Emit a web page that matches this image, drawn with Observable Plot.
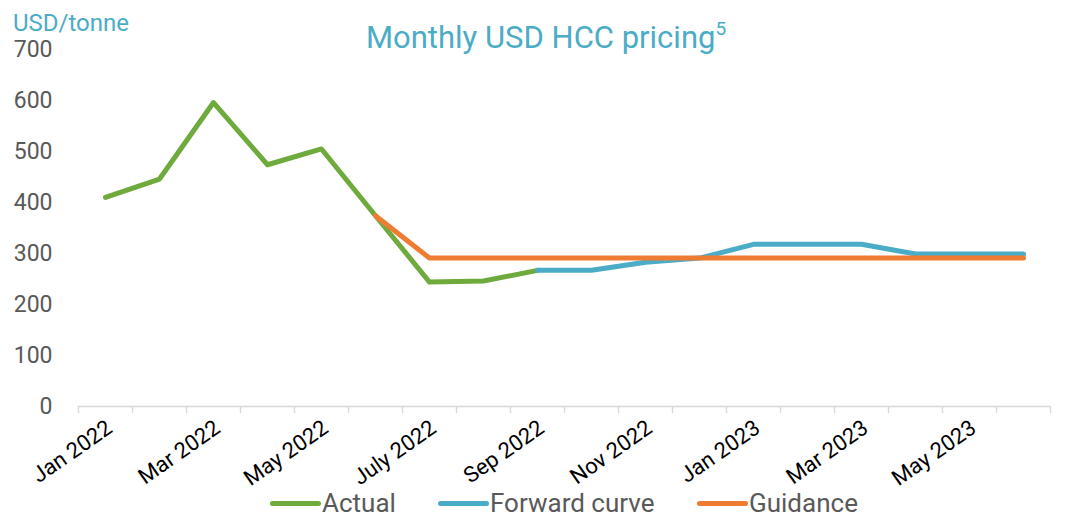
<!DOCTYPE html>
<html>
<head>
<meta charset="utf-8">
<script src="https://cdn.jsdelivr.net/npm/d3@7"></script>
<script src="https://cdn.jsdelivr.net/npm/@observablehq/plot@0.6"></script>
<style>
  html, body { margin: 0; padding: 0; background: #fff; }
  #wrap { position: relative; width: 1077px; height: 521px; overflow: hidden; font-family: Roboto, "Noto Sans", sans-serif; }
  #ylabel { position: absolute; left: 13px; top: 9px; font-size: 24px; color: #4bacc6; }
  #title { position: absolute; left: 366px; top: 19px; font-size: 31px; color: #4bacc6; white-space: nowrap; }
  #title sup { font-size: 19px; vertical-align: 0; position: relative; top: -13px; }
  #chart { position: absolute; left: 0; top: 0; }
  .leg { position: absolute; top: 490px; height: 26px; line-height: 26px; display: flex; align-items: center; font-size: 26px; color: #595959; white-space: nowrap; }
  .sw { width: 51px; height: 5px; border-radius: 3px; margin-right: 1px; }
</style>
</head>
<body>
<div id="wrap">
  <div id="chart"></div>
  <div id="ylabel"></div>
  <div id="title"></div>
  <div id="legend"></div>
</div>
<script>
// ---- data ----
const months = ["Jan 2022","Feb 2022","Mar 2022","Apr 2022","May 2022","Jun 2022","July 2022","Aug 2022","Sep 2022","Oct 2022","Nov 2022","Dec 2022","Jan 2023","Feb 2023","Mar 2023","Apr 2023","May 2023","Jun 2023"];
const actualMonths = months.slice(0, 9);           // Jan 2022 – Sep 2022
const actualValues = [410, 446, 596, 474, 505, 374, 244, 246, 267];
const forwardMonths = months.slice(8);             // Sep 2022 – Jun 2023
const forwardValues = [267, 267, 283, 291, 318, 318, 318, 299, 299, 299];
const guidanceMonths = months.slice(5);            // Jun 2022 – Jun 2023
const guidanceValues = [374, 291, 291, 291, 291, 291, 291, 291, 291, 291, 291, 291, 291];
const labelMonths = ["Jan 2022","Mar 2022","May 2022","July 2022","Sep 2022","Nov 2022","Jan 2023","Mar 2023","May 2023"];
const yTicks = [0, 100, 200, 300, 400, 500, 600, 700];
const seriesNames = ["Actual", "Forward curve", "Guidance"];
const seriesColors = ["#6eaa3c", "#4aacc7", "#ee7d33"];
const titleText = "Monthly USD HCC pricing";
const titleNote = "5";
const yLabel = "USD/tonne";

// ---- build rows ----
const idx = m => months.indexOf(m);
const toRows = (ms, vs, s) => ms.map((m, k) => ({i: idx(m), month: m, value: vs[k], series: s}));
const actual = toRows(actualMonths, actualValues, seriesNames[0]);
const forward = toRows(forwardMonths, forwardValues, seriesNames[1]);
const guidance = toRows(guidanceMonths, guidanceValues, seriesNames[2]);
const edges = d3.range(months.length + 1).map(k => k - 0.5);

const lineOpts = {x: "i", y: "value", stroke: "series", strokeWidth: 5, strokeLinecap: "round", strokeLinejoin: "round"};

const chart = Plot.plot({
  width: 1077,
  height: 521,
  marginTop: 49,
  marginBottom: 115,
  marginLeft: 78,
  marginRight: 27,
  style: {fontFamily: "Roboto, 'Noto Sans', sans-serif", background: "transparent", overflow: "visible"},
  x: {type: "linear", domain: [-0.5, months.length - 0.5], axis: null},
  y: {domain: [0, 700], axis: null},
  color: {domain: seriesNames, range: seriesColors},
  marks: [
    Plot.ruleY([0], {stroke: "#d9d9d9", strokeWidth: 1.5}),
    Plot.axisX(edges, {label: null, tickSize: 7, tickFormat: () => "", stroke: "#d9d9d9", strokeOpacity: 1, strokeWidth: 1.5}),
    Plot.axisX(labelMonths.map(idx), {label: null, tickSize: 0, tickPadding: 19, dx: 4, tickRotate: -35, tickFormat: i => months[i], fontSize: 22, fill: "#000"}),
    Plot.axisY(yTicks, {label: null, tickSize: 0, tickPadding: 26, fontSize: 23, fill: "#595959"}),
    Plot.line(actual, lineOpts),
    Plot.line(forward, lineOpts),
    Plot.line(guidance, lineOpts)
  ]
});
document.getElementById("chart").appendChild(chart);

document.getElementById("ylabel").textContent = yLabel;
const t = document.getElementById("title");
t.textContent = titleText;
const sup = document.createElement("sup");
sup.textContent = titleNote;
t.appendChild(sup);

const legendLefts = [270, 438, 697];
const leg = document.getElementById("legend");
seriesNames.forEach((s, k) => {
  const item = document.createElement("div");
  item.className = "leg";
  item.style.left = legendLefts[k] + "px";
  const sw = document.createElement("div");
  sw.className = "sw";
  sw.style.background = seriesColors[k];
  const tx = document.createElement("span");
  tx.textContent = s;
  item.appendChild(sw);
  item.appendChild(tx);
  leg.appendChild(item);
});
</script>
</body>
</html>
